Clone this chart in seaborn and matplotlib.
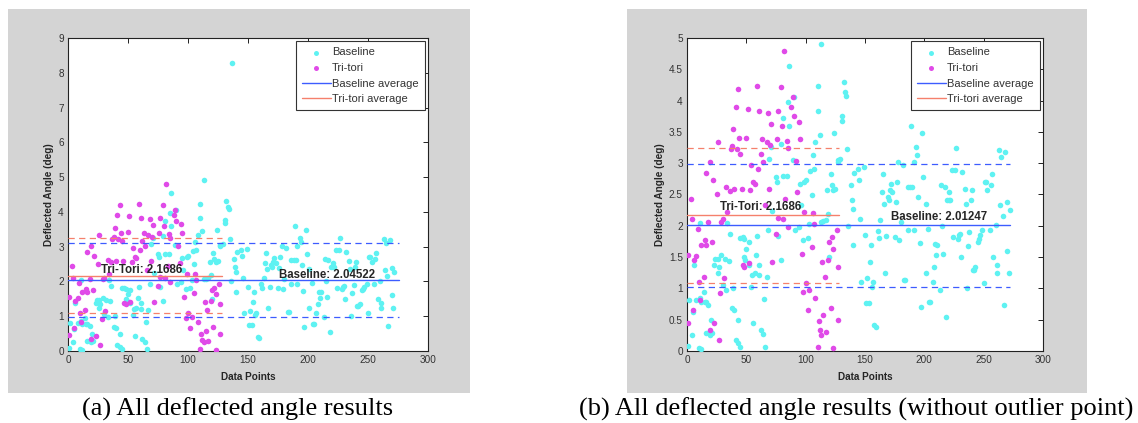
import matplotlib
matplotlib.use("Agg")
import matplotlib.pyplot as plt
from matplotlib.patches import Rectangle
from matplotlib.ticker import FormatStrFormatter, MultipleLocator
import seaborn as sns
import pandas as pd

# ---------------- data ----------------
baseline_x = [1, 2, 4, 5, 6, 8, 10, 11, 11, 12, 12, 14, 15, 16, 16, 18, 19, 20, 21, 23,
              24, 26, 26, 27, 29, 30, 32, 33, 34, 35, 36, 38, 39, 40, 41, 43, 43, 45, 45, 47,
              48, 48, 49, 50, 52, 52, 54, 55, 56, 57, 58, 59, 61, 61, 62, 64, 65, 66, 67, 68,
              69, 71, 72, 75, 76, 77, 79, 79, 81, 81, 84, 85, 86, 86, 89, 90, 91, 94, 95, 96,
              98, 99, 100, 102, 103, 104, 105, 106, 107, 108, 110, 110, 112, 113, 113, 115, 117, 118, 119, 120,
              121, 122, 123, 124, 125, 127, 127, 129, 131, 131, 132, 133, 134, 135, 136, 138, 139, 140, 140, 141,
              144, 145, 146, 147, 149, 150, 151, 152, 153, 154, 155, 156, 157, 158, 159, 161, 162, 163, 164, 165,
              166, 167, 168, 169, 170, 171, 172, 173, 175, 176, 177, 178, 179, 180, 182, 183, 184, 186, 186, 188,
              189, 190, 191, 191, 193, 194, 195, 196, 197, 198, 199, 201, 201, 203, 204, 205, 207, 208, 209, 210,
              211, 213, 214, 215, 216, 217, 218, 219, 221, 221, 222, 223, 224, 226, 227, 228, 229, 230, 231, 232,
              234, 235, 236, 237, 238, 239, 240, 241, 242, 243, 245, 246, 247, 249, 250, 251, 252, 253, 255, 256,
              257, 258, 260, 261, 261, 263, 264, 265, 266, 267, 268, 270, 270, 271, 272]
baseline_y = [0.08, 0.81, 0.25, 0.62, 1.37, 0.81, 0.05, 0.85, 2.05, 0.03, 0.78, 0.94, 0.78, 0.79, 0.28, 0.73, 0.26, 0.49, 0.28, 1.38,
              1.47, 1.47, 1.24, 1.34, 1.53, 1.05, 1.47, 0.97, 2.05, 1.43, 1.87, 0.69, 1.00, 0.65, 0.18, 0.12, 0.49, 0.07, 1.81, 1.82,
              1.50, 1.79, 1.45, 1.63, 1.38, 1.74, 1.03, 1.21, 0.44, 1.24, 1.53, 1.83, 1.37, 1.21, 0.34, 0.27, 0.83, 0.07, 1.19, 1.94,
              3.07, 3.26, 2.23, 2.78, 2.70, 1.84, 3.31, 1.45, 3.73, 2.80, 2.80, 3.98, 3.59, 4.55, 3.05, 4.06, 1.94, 1.98, 2.67, 2.33,
              1.77, 2.70, 2.73, 1.81, 2.03, 2.88, 2.49, 3.13, 2.91, 3.34, 4.23, 3.83, 3.45, 4.91, 2.06, 2.08, 2.09, 2.57, 2.19, 1.50,
              2.83, 2.65, 2.57, 3.48, 2.59, 3.02, 3.05, 3.07, 3.68, 3.76, 4.30, 4.14, 4.08, 3.23, 2.00, 2.65, 2.41, 2.27, 1.70, 2.84,
              2.90, 2.73, 2.11, 1.10, 2.94, 1.85, 0.76, 1.16, 0.76, 1.42, 1.69, 1.03, 1.10, 0.41, 0.38, 1.92, 1.81, 2.09, 2.54, 2.83,
              2.35, 1.24, 1.83, 2.46, 2.41, 2.57, 2.67, 2.54, 1.82, 2.38, 2.70, 3.02, 1.77, 2.06, 2.97, 1.13, 1.13, 2.62, 1.93, 2.62,
              3.60, 2.62, 1.93, 3.02, 3.26, 3.13, 2.46, 1.73, 0.70, 3.48, 2.78, 2.35, 1.24, 1.95, 0.78, 0.78, 1.10, 1.34, 1.71, 1.53,
              1.69, 0.98, 2.65, 2.00, 1.55, 2.62, 0.54, 2.41, 2.54, 2.41, 2.41, 2.89, 1.82, 2.89, 3.24, 1.79, 1.85, 1.87, 1.50, 2.86,
              2.58, 2.35, 1.00, 1.67, 1.90, 2.42, 2.57, 1.30, 1.30, 1.34, 1.74, 1.79, 1.85, 1.93, 1.08, 2.70, 2.70, 2.57, 1.93, 2.65,
              2.83, 1.50, 2.01, 1.37, 1.24, 3.21, 2.33, 3.10, 2.15, 0.73, 3.18, 1.60, 2.38, 1.24, 2.26]

tritori_x = [1, 1, 3, 4, 5, 6, 8, 9, 10, 11, 12, 14, 15, 16, 16, 18, 19, 19, 21, 22,
             23, 25, 26, 27, 28, 29, 30, 31, 33, 34, 36, 37, 38, 39, 40, 41, 42, 43, 44, 45,
             46, 47, 48, 50, 51, 52, 53, 54, 56, 57, 59, 60, 61, 62, 63, 64, 66, 67, 68, 69,
             70, 71, 72, 75, 76, 77, 77, 79, 80, 81, 82, 83, 84, 85, 85, 88, 89, 90, 92, 93,
             94, 95, 97, 98, 99, 100, 102, 103, 105, 106, 107, 108, 110, 111, 112, 113, 114, 115, 116, 117,
             119, 120, 121, 122, 123, 123, 126, 127, 127]
tritori_y = [0.45, 1.54, 2.43, 2.11, 0.65, 1.45, 1.51, 1.95, 1.10, 0.82, 1.69, 1.19, 1.77, 1.69, 2.84, 2.06, 0.34, 3.02, 1.74, 2.73,
             0.44, 2.51, 3.34, 0.17, 0.92, 2.06, 2.11, 1.16, 2.62, 2.22, 2.56, 3.23, 3.28, 3.55, 2.59, 3.90, 3.22, 4.19, 3.40, 3.15,
             2.58, 1.37, 1.34, 3.41, 3.87, 1.40, 2.57, 2.97, 2.70, 2.67, 4.24, 2.91, 3.83, 3.15, 3.38, 3.02, 2.33, 3.34, 3.80, 2.59,
             3.29, 3.62, 1.42, 1.87, 3.38, 2.12, 3.83, 4.21, 3.59, 2.11, 4.80, 2.43, 3.35, 3.25, 1.98, 3.90, 4.05, 3.75, 3.03, 2.54,
             3.66, 3.38, 1.55, 0.94, 2.22, 1.08, 0.66, 0.97, 1.66, 2.20, 2.03, 0.84, 0.06, 0.48, 0.33, 0.25, 1.42, 0.57, 1.18, 0.30,
             1.45, 1.74, 0.68, 1.82, 0.04, 1.63, 1.93, 1.34, 0.50]

outlier_x = [137]
outlier_y = [8.28]

# statistics: [mean, mean - std, mean + std]
baseline_stats_a = [2.04522, 0.99, 3.10]
tritori_stats_a = [2.1686, 1.09, 3.26]
baseline_stats_b = [2.01247, 1.03, 2.99]
tritori_stats_b = [2.1686, 1.09, 3.24]
baseline_span_a = [0, 276]
baseline_span_b = [0, 272]
tritori_span = [0, 128]

baseline_label_a = "Baseline: 2.04522"
baseline_label_b = "Baseline: 2.01247"
tritori_label = "Tri-Tori: 2.1686"
captions = ["(a) All deflected angle results",
            "(b) All deflected angle results (without outlier point)"]

# ---------------- style ----------------
sns.set_style("white")
plt.rcParams["font.family"] = ["Liberation Sans", "DejaVu Sans"]

CYAN = "#5ef2f2"
MAGENTA = "#e04ae8"
BLUE = "#3d5cff"
SALMON = "#f5806c"
GREY = "#d4d4d4"

W, H = 1138, 423
fig = plt.figure(figsize=(W / 100, H / 100), dpi=100, facecolor="white")


def px_rect(x0, y0, x1, y1):
    return [x0 / W, 1 - y1 / H, (x1 - x0) / W, (y1 - y0) / H]


for (x0, x1) in [(8, 470), (627, 1087)]:
    r = px_rect(x0, 9, x1, 393)
    fig.patches.append(Rectangle((r[0], r[1]), r[2], r[3], transform=fig.transFigure,
                                 facecolor=GREY, edgecolor="none", zorder=-10))


def draw_panel(rect, bx, by, bstats, tstats, bspan, ylim, ystep, blabel, bpos, tpos):
    ax = fig.add_axes(px_rect(*rect))
    ax.set_facecolor("white")
    df_b = pd.DataFrame({"x": bx, "y": by})
    df_t = pd.DataFrame({"x": tritori_x, "y": tritori_y})
    sns.scatterplot(data=df_b, x="x", y="y", ax=ax, color=CYAN, s=16, linewidth=0,
                    label="Baseline", zorder=3)
    sns.scatterplot(data=df_t, x="x", y="y", ax=ax, color=MAGENTA, s=16, linewidth=0,
                    label="Tri-tori", zorder=3)
    ax.plot(bspan, [bstats[0]] * 2, color=BLUE, lw=1.0, label="Baseline average", zorder=4)
    ax.plot(tritori_span, [tstats[0]] * 2, color=SALMON, lw=1.0, label="Tri-tori average", zorder=4)
    for v in bstats[1:]:
        ax.plot(bspan, [v] * 2, color=BLUE, lw=0.9, ls=(0, (5, 3.5)), zorder=4)
    for v in tstats[1:]:
        ax.plot(tritori_span, [v] * 2, color=SALMON, lw=0.9, ls=(0, (5, 3.5)), zorder=4)

    ax.text(tpos[0], tpos[1], tritori_label, fontsize=8.3, fontweight="bold",
            va="center", ha="left", zorder=6)
    ax.text(bpos[0], bpos[1], blabel, fontsize=8.3, fontweight="bold",
            va="center", ha="left", zorder=6)

    ax.set_xlim(0, 300)
    ax.set_ylim(*ylim)
    ax.xaxis.set_major_locator(MultipleLocator(50))
    ax.yaxis.set_major_locator(MultipleLocator(ystep))
    ax.yaxis.set_major_formatter(FormatStrFormatter("%g"))
    ax.tick_params(direction="in", length=3.5, width=0.7, top=True, right=True,
                   labelsize=7.2, labelcolor="#333333", color="#222222", pad=3)
    for sp in ax.spines.values():
        sp.set_visible(True)
        sp.set_color("#222222")
        sp.set_linewidth(0.8)
    ax.set_xlabel("Data Points", fontsize=7.2, fontweight="bold", labelpad=5)
    ax.set_ylabel("Deflected Angle (deg)", fontsize=7.2, fontweight="bold", labelpad=3)

    leg = ax.legend(loc="upper right", fontsize=8, frameon=True, fancybox=False,
                    framealpha=1, edgecolor="#333333", borderaxespad=0.3,
                    handlelength=2.6, handletextpad=0.1, labelspacing=0.5,
                    borderpad=0.55, markerscale=0.9)
    leg.get_frame().set_linewidth(0.8)
    for t in leg.get_texts():
        t.set_color("#333333")
    return ax


draw_panel((68, 38, 428, 351), baseline_x + outlier_x, baseline_y + outlier_y,
           baseline_stats_a, tritori_stats_a, baseline_span_a, (0, 9), 1,
           baseline_label_a, (175.5, 2.19), (27.5, 2.33))
draw_panel((687, 38, 1043, 351), baseline_x, baseline_y,
           baseline_stats_b, tritori_stats_b, baseline_span_b, (0, 5), 0.5,
           baseline_label_b, (171.5, 2.14), (27.5, 2.30))

for cx, cap in zip([238, 856], captions):
    fig.text(cx / W, 1 - 409 / H, cap, ha="center", va="center", fontsize=19,
             color="black", family=["Liberation Serif", "DejaVu Serif"])

fig.savefig("out.png", dpi=100, facecolor="white")
